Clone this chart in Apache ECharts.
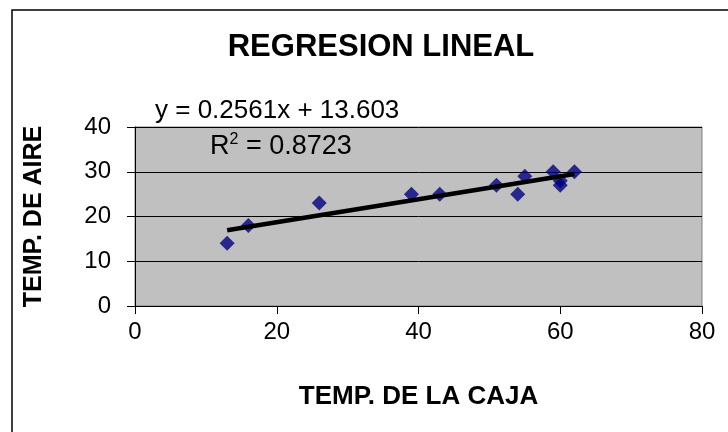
<!DOCTYPE html>
<html>
<head>
<meta charset="utf-8">
<script src="https://cdn.jsdelivr.net/npm/echarts@6/dist/echarts.min.js"></script>
<style>
html,body{margin:0;padding:0;background:#fff;}
#chart{width:728px;height:432px;}
</style>
</head>
<body>
<div id="chart"></div>
<script>
// Data
var cajaTemps = [13, 16, 26, 39, 43, 51, 54, 55, 59, 60, 60, 62];
var aireTemps = [14, 18, 23, 25, 25, 27, 25, 29, 30, 27, 28, 30];
var trendSlope = 0.2561;
var trendIntercept = 13.603;
var rSquared = 0.8723;
var xTicks = [0, 20, 40, 60, 80];
var yTicks = [0, 10, 20, 30, 40];
var chartTitle = 'REGRESION LINEAL';
var xTitle = 'TEMP. DE LA CAJA';
var yTitle = 'TEMP. DE AIRE';

var points = cajaTemps.map(function (x, i) { return [x, aireTemps[i]]; });
var xMin = Math.min.apply(null, cajaTemps);
var xMax = Math.max.apply(null, cajaTemps);
var trendLine = [
  [xMin, trendSlope * xMin + trendIntercept],
  [xMax, trendSlope * xMax + trendIntercept]
];

var FONT = '"Liberation Sans", Arial, sans-serif';
var chart = echarts.init(document.getElementById('chart'), null, {renderer: 'canvas'});
chart.setOption({
  animation: false,
  backgroundColor: '#ffffff',
  graphic: [
    {type: 'rect', shape: {x: 12, y: 10, width: 740, height: 440}, style: {fill: 'none', stroke: '#000', lineWidth: 1.5}, silent: true, z: 100},
    {type: 'text', x: 381, y: 47, style: {text: chartTitle, font: 'bold 31px ' + FONT, fill: '#000', textAlign: 'center', textVerticalAlign: 'middle'}, z: 100},
    {type: 'text', x: 155, y: 111, style: {text: 'y = ' + trendSlope + 'x + ' + trendIntercept, font: '26px ' + FONT, fill: '#000', textAlign: 'left', textVerticalAlign: 'middle'}, z: 100},
    {type: 'text', x: 210, y: 147, style: {
      text: '{a|R}{s|2}{a| = ' + rSquared + '}',
      textAlign: 'left', textVerticalAlign: 'middle',
      rich: {
        a: {fontFamily: FONT, fontSize: 27, color: '#000', lineHeight: 30},
        s: {fontFamily: FONT, fontSize: 16, color: '#000', verticalAlign: 'top', lineHeight: 30, padding: [0, 0, 12, 0]}
      }
    }, z: 100}
  ],
  grid: {
    left: 135, top: 127, right: 26, bottom: 126,
    show: true, backgroundColor: '#C0C0C0', borderColor: '#808080', borderWidth: 1
  },
  xAxis: {
    type: 'value', min: xTicks[0], max: xTicks[xTicks.length - 1], interval: xTicks[1] - xTicks[0],
    name: xTitle, nameLocation: 'middle', nameGap: 78,
    nameTextStyle: {fontFamily: FONT, fontSize: 26, fontWeight: 'bold', color: '#000'},
    axisLine: {show: true, onZero: false, lineStyle: {color: '#000', width: 1}},
    axisTick: {show: true, length: 8, lineStyle: {color: '#000'}},
    axisLabel: {fontFamily: FONT, fontSize: 24, color: '#000', margin: 14},
    splitLine: {show: false}
  },
  yAxis: {
    type: 'value', min: yTicks[0], max: yTicks[yTicks.length - 1], interval: yTicks[1] - yTicks[0],
    name: yTitle, nameLocation: 'middle', nameGap: 88, nameRotate: 90,
    nameTextStyle: {fontFamily: FONT, fontSize: 25, fontWeight: 'bold', color: '#000'},
    axisLine: {show: true, onZero: false, lineStyle: {color: '#000', width: 1}},
    axisTick: {show: true, length: 8, lineStyle: {color: '#000'}},
    axisLabel: {fontFamily: FONT, fontSize: 24, color: '#000', margin: 24},
    splitLine: {show: true, lineStyle: {color: '#000', width: 1}}
  },
  series: [
    {
      type: 'scatter', data: points, symbol: 'diamond', symbolSize: 15,
      itemStyle: {color: '#000080'}, z: 3
    },
    {
      type: 'line', data: trendLine, symbol: 'none',
      lineStyle: {color: '#000', width: 4.5}, z: 4
    }
  ]
});
</script>
</body>
</html>
